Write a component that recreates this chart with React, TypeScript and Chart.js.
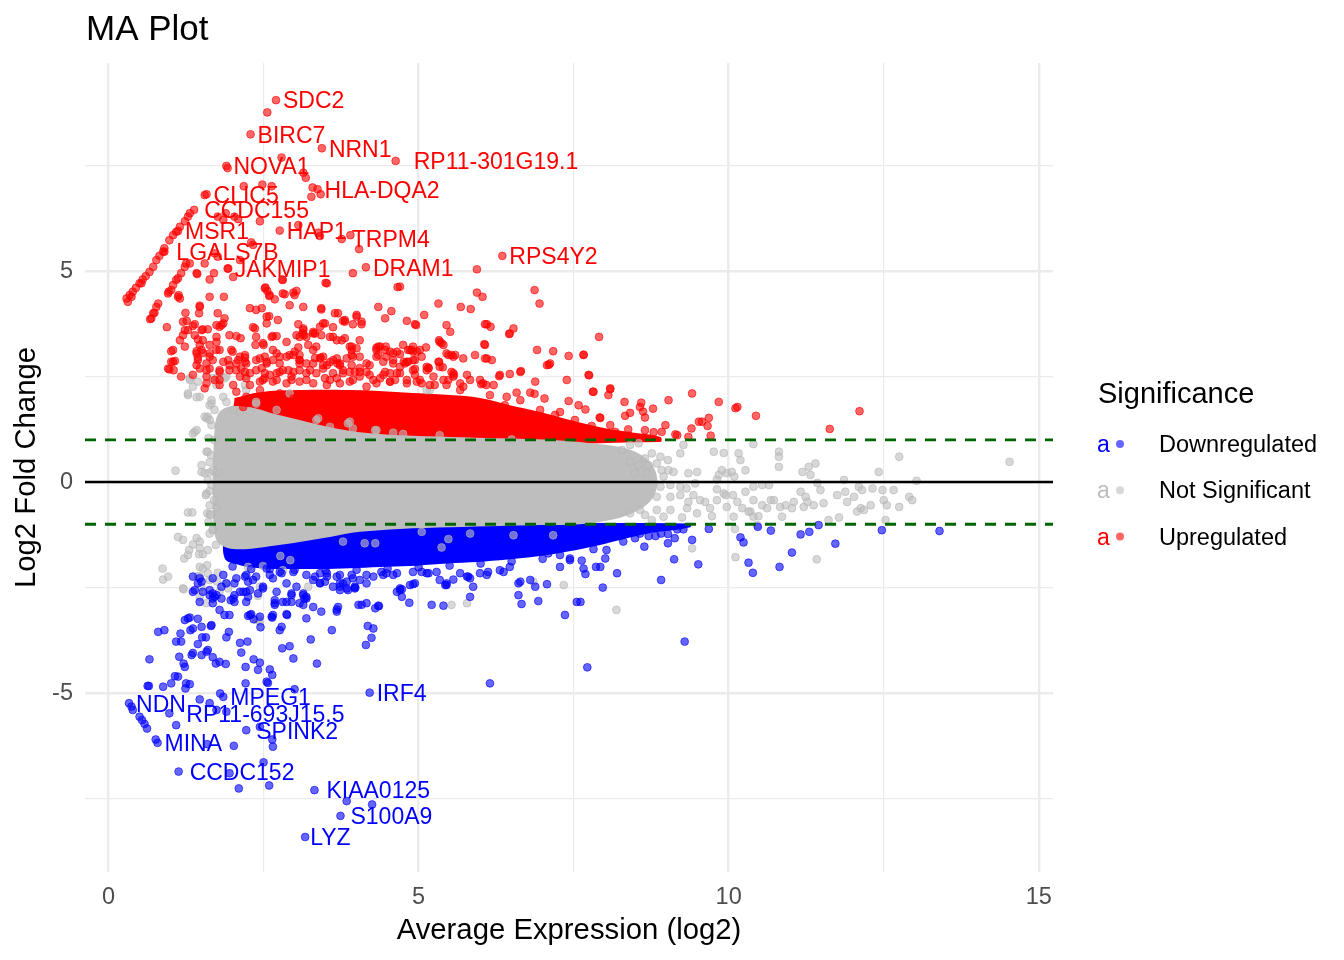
import React, { useEffect, useRef } from 'react';
import { Chart, registerables } from 'chart.js';

Chart.register(...registerables);

// ---------- axes ----------
const xMin = -0.38;
const xMax = 15.23;
const yMin = -9.24;
const yMax = 9.93;
const xTicks = [0, 2.5, 5, 7.5, 10, 12.5, 15];
const xTickLabels = [0, 5, 10, 15];
const yTicks = [-7.5, -5, -2.5, 0, 2.5, 5, 7.5];
const yTickLabels = [-5, 0, 5];
const foldThreshold = 1;

// ---------- labelled genes [name, A, M] ----------
const upGenes: [string, number, number][] = [
  ['SDC2', 2.70, 9.05],
  ['BIRC7', 2.29, 8.24],
  ['NRN1', 3.44, 7.91],
  ['RP11-301G19.1', 4.63, 7.61],
  ['NOVA1', 1.90, 7.49],
  ['HLA-DQA2', 3.37, 6.94],
  ['CLIC5', 1.58, 6.82],
  ['CCDC155', 1.38, 6.45],
  ['MSR1', 1.12, 5.95],
  ['HAP1', 2.76, 5.96],
  ['TRPM4', 3.76, 5.76],
  ['LGALS7B', 0.90, 5.46],
  ['JAKMIP1', 1.92, 5.06],
  ['DRAM1', 4.15, 5.09],
  ['RPS4Y2', 6.35, 5.36],
];
const downGenes: [string, number, number][] = [
  ['NDN', 0.33, -5.24],
  ['RP11-693J15.5', 0.98, -5.48],
  ['MPEG1', 1.85, -5.09],
  ['SPINK2', 2.22, -5.88],
  ['MINA', 0.79, -6.18],
  ['CCDC152', 1.13, -6.86],
  ['IRF4', 4.21, -4.99],
  ['KIAA0125', 3.32, -7.30],
  ['S100A9', 3.74, -7.91],
  ['LYZ', 3.17, -8.41],
];

// ---------- dense cores (outline of the overplotted clouds) ----------
const upCore = [
  [2.03, 1.99], [2.44, 2.13], [3.08, 2.18], [3.89, 2.18], [4.70, 2.13], [5.51, 2.06], [5.99, 1.99], [6.47, 1.82],
  [6.96, 1.66], [7.44, 1.47], [7.93, 1.30], [8.41, 1.18], [8.90, 1.07], [8.90, 0.95], [2.03, 0.95], [2.03, 1.99],
];
const downCore = [
  [1.87, -0.98], [9.38, -0.98], [9.38, -1.07], [8.74, -1.21], [8.25, -1.37], [7.77, -1.54], [7.28, -1.68],
  [6.80, -1.78], [6.31, -1.85], [5.83, -1.90], [5.34, -1.94], [4.86, -1.99], [4.38, -2.01], [3.89, -2.04],
  [3.41, -2.06], [2.92, -2.06], [2.44, -2.04], [2.12, -1.97], [1.87, -1.80], [1.87, -0.98],
];
const nsCore = [
  [1.70, 1.00], [1.73, 1.47], [1.82, 1.71], [2.03, 1.80], [2.36, 1.75], [2.68, 1.61], [3.08, 1.47], [3.57, 1.30],
  [4.05, 1.18], [4.70, 1.11], [5.51, 1.07], [6.31, 1.04], [7.12, 1.00], [7.77, 0.92], [8.25, 0.83], [8.57, 0.66],
  [8.77, 0.40], [8.85, 0.05], [8.80, -0.31], [8.65, -0.57], [8.41, -0.76], [8.09, -0.90], [7.61, -1.00],
  [6.96, -1.02], [6.31, -1.04], [5.51, -1.07], [4.70, -1.11], [4.05, -1.18], [3.57, -1.30], [3.08, -1.42],
  [2.60, -1.52], [2.20, -1.59], [1.92, -1.56], [1.76, -1.42], [1.70, -1.14], [1.68, -0.43], [1.68, 0.28],
  [1.70, 1.00],
];

// ---------- individual genes ----------
const upPoints = [
  [2.56, 8.76], [2.79, 7.69], [3.14, 7.33], [3.18, 7.21], [3.29, 6.98], [3.27, 6.76], [3.42, 6.82], [2.18, 7.01],
  [2.48, 7.05], [2.63, 7.01], [1.92, 7.44], [1.55, 6.80], [1.89, 6.37], [2.03, 6.29], [2.09, 6.23], [1.85, 6.21],
  [1.76, 6.29], [2.44, 6.18], [3.06, 6.09], [3.38, 5.91], [3.41, 5.83], [3.90, 5.85], [4.04, 5.52], [2.30, 5.68],
  [2.33, 5.62], [1.76, 5.34], [1.71, 5.42], [2.12, 5.26], [2.01, 4.86], [1.42, 4.95], [1.55, 5.18], [1.63, 4.80],
  [1.70, 4.95], [3.94, 4.95], [5.94, 5.04], [6.87, 4.55], [5.94, 4.49], [6.03, 4.39], [4.66, 4.62], [3.50, 4.72],
  [2.80, 4.80], [2.53, 4.61], [2.56, 4.53], [2.81, 4.47], [3.03, 4.53], [2.59, 4.41], [1.13, 4.43], [1.93, 5.06],
  [1.28, 6.29], [1.15, 6.05], [1.09, 5.93], [1.04, 5.85], [0.98, 5.73], [0.90, 5.54], [0.88, 5.46], [0.77, 5.26],
  [0.72, 5.10], [0.66, 4.98], [0.55, 4.80], [0.50, 4.71], [0.39, 4.51], [0.34, 4.43], [0.29, 4.35], [0.31, 4.27],
  [0.37, 4.39], [1.31, 6.37], [1.23, 6.18], [0.82, 5.36], [0.60, 4.88], [0.44, 4.60],
  [1.31, 5.18], [1.25, 5.18], [1.23, 5.10], [1.17, 4.95], [1.12, 4.83], [1.09, 4.79], [1.04, 4.67], [1.01, 4.55],
  [0.97, 4.51], [0.96, 4.47], [0.80, 4.23], [0.77, 4.15], [0.72, 4.00], [0.67, 3.86], [0.69, 3.88], [0.74, 4.01],
  [1.43, 4.93], [0.53, 4.71],
  [1.12, 4.39], [1.15, 4.35], [1.63, 4.39], [1.86, 4.39], [1.47, 4.15], [1.46, 4.00], [1.24, 4.01], [1.76, 4.00],
  [1.87, 3.88], [1.20, 3.80], [0.94, 3.67], [2.28, 4.12], [2.38, 4.08], [2.47, 4.12], [2.52, 4.59], [2.60, 4.43],
  [2.68, 4.33], [2.81, 4.79], [2.84, 4.45], [2.98, 4.49], [2.92, 4.19], [3.14, 4.15], [3.43, 4.09], [3.52, 4.71],
  [2.55, 3.92], [2.59, 3.93], [2.73, 3.84], [2.33, 3.67], [3.06, 3.74], [3.14, 3.60], [3.30, 3.56], [3.46, 3.76],
  [3.70, 4.00], [3.78, 3.82], [4.00, 3.96], [4.08, 3.80], [4.35, 4.15], [4.56, 4.05], [4.46, 3.88], [4.81, 3.82],
  [1.04, 3.13], [0.96, 2.69], [1.01, 2.85], [1.15, 3.36], [1.23, 3.21], [1.28, 3.60], [1.39, 3.74], [1.50, 3.60],
  [1.60, 3.62], [1.44, 3.38], [1.52, 3.06], [1.44, 2.95], [1.74, 3.32], [1.74, 3.13], [1.95, 3.48], [2.06, 3.46],
  [2.13, 3.41], [1.98, 3.13], [2.09, 2.89], [2.20, 2.95], [2.36, 3.64], [2.38, 3.44], [2.37, 3.25], [2.50, 3.25],
  [2.65, 3.46], [2.71, 3.46], [2.87, 3.32], [2.65, 3.13], [2.71, 3.05], [3.00, 3.09], [3.06, 3.19], [3.13, 3.52],
  [3.08, 3.44], [3.22, 3.25], [3.35, 3.21], [3.57, 3.44], [3.68, 3.36], [3.81, 3.41], [3.89, 3.21], [4.00, 3.17],
  [4.32, 3.18], [4.46, 3.13], [4.59, 3.05], [4.70, 3.03], [4.75, 3.25], [4.81, 2.85], [4.32, 2.97], [3.42, 2.95],
  [3.69, 2.81],
  [0.98, 2.67], [1.07, 2.87], [1.05, 2.65], [1.01, 3.10], [1.17, 2.50], [1.26, 3.82], [1.23, 3.60], [1.47, 4.18],
  [1.47, 3.25], [1.42, 3.10], [1.44, 2.89], [1.47, 2.69], [1.63, 3.05], [1.68, 2.89], [1.63, 2.69], [1.58, 2.50],
  [1.55, 2.22], [1.79, 3.68], [1.85, 3.76], [1.79, 2.65], [1.79, 2.42], [1.93, 2.89], [2.00, 3.09], [2.22, 2.81],
  [2.06, 2.65], [2.12, 2.50], [2.49, 3.29], [3.00, 4.43], [3.15, 3.48], [3.41, 3.68], [3.49, 3.76], [3.43, 4.12],
  [3.65, 4.00], [3.62, 3.44], [3.81, 3.84], [3.92, 3.13], [4.00, 3.92], [4.05, 2.97], [4.35, 3.21], [4.47, 3.21],
  [4.54, 3.09], [4.89, 3.13], [4.83, 2.85], [4.94, 3.74], [5.09, 3.96], [5.32, 4.23], [5.34, 3.32], [5.45, 3.72],
  [5.51, 3.56], [5.68, 4.15], [5.84, 4.10], [6.10, 3.74], [6.16, 3.68], [6.47, 3.52], [6.53, 3.64], [6.95, 4.23],
  [6.91, 3.13], [7.17, 3.10], [7.42, 2.99], [7.66, 3.01], [7.91, 3.44], [5.02, 3.13], [5.16, 2.69], [5.32, 2.85],
  [5.53, 3.01], [5.72, 2.93], [5.91, 3.01], [6.10, 2.93], [6.18, 2.89], [6.31, 2.54], [6.64, 2.61], [6.88, 2.38],
  [7.07, 2.77], [7.12, 2.81], [7.74, 2.54], [8.09, 2.22], [8.06, 2.06], [7.82, 2.14],
  [4.70, 4.63], [6.46, 3.51], [5.33, 3.36], [5.37, 3.29], [6.06, 3.27], [4.86, 3.13], [5.12, 3.19], [5.45, 3.05],
  [5.59, 3.01], [6.07, 2.93], [4.76, 2.85], [4.91, 2.89], [5.16, 2.71], [4.94, 2.68], [5.33, 2.85], [5.39, 2.72],
  [7.10, 2.78], [6.30, 2.51], [6.47, 2.56], [6.65, 2.63], [7.75, 2.53], [5.53, 2.61], [5.57, 2.54], [5.48, 2.42],
  [6.01, 2.32], [6.09, 2.30], [8.09, 2.20], [7.81, 2.14], [9.41, 2.10], [9.03, 1.94], [8.32, 1.90], [8.59, 1.88],
  [8.57, 1.78], [8.62, 1.67], [8.65, 1.53], [8.78, 1.74], [8.41, 1.64], [8.33, 1.57], [7.42, 1.92], [7.58, 1.82],
  [7.69, 1.72], [7.92, 1.53], [7.79, 1.33], [7.03, 1.98], [6.58, 2.12], [6.42, 2.02], [6.80, 2.12], [6.87, 2.09],
  [7.20, 1.59], [8.17, 1.19], [8.38, 1.25], [8.39, 1.10], [8.79, 1.18], [8.92, 1.19], [9.40, 1.27], [9.14, 1.13],
  [9.35, 1.07], [9.52, 1.43],
  [7.66, 3.02], [9.84, 1.90], [10.11, 1.75], [10.14, 1.78], [10.44, 1.57], [12.11, 1.68], [11.63, 1.26], [7.93, 1.52],
  [9.66, 1.33], [9.68, 1.52], [9.57, 1.43], [9.71, 1.10], [7.98, 1.11], [7.87, 1.07], [7.65, 1.07], [9.17, 1.11],
  [2.28, 2.30], [2.52, 2.46], [2.76, 2.61], [2.95, 2.42], [3.25, 2.65], [3.49, 2.46], [3.73, 2.77], [3.97, 2.61],
  [4.21, 2.77], [4.46, 2.61], [4.62, 2.42], [5.02, 2.42], [5.26, 2.30], [5.67, 2.18], [5.83, 2.42], [6.15, 2.06],
  [6.39, 1.82], [6.64, 1.94], [6.96, 1.71], [7.28, 1.66], [7.52, 1.47], [8.09, 1.35], [8.65, 1.23], [8.98, 1.35],
  [1.95, 2.77], [1.71, 2.42], [2.20, 2.61], [2.47, 2.70], [3.08, 2.89], [3.33, 2.94], [3.57, 2.84], [4.05, 2.70],
  [2.44, 2.93], [2.55, 2.85], [2.65, 2.89], [2.76, 2.97], [2.87, 2.97], [2.98, 3.01], [3.08, 3.01], [3.30, 2.81],
  [3.41, 2.93], [3.52, 2.77], [3.62, 2.89], [3.73, 2.81], [3.84, 2.93], [3.94, 2.97], [4.16, 2.81], [4.32, 3.13],
  [4.48, 2.97], [4.59, 2.89], [4.70, 2.73], [4.91, 3.09], [5.05, 2.97], [5.48, 3.01], [5.56, 2.97],
  [2.28, 2.58], [2.38, 2.65], [2.49, 2.42], [2.60, 2.54], [2.71, 2.42], [2.81, 2.65], [2.95, 2.50], [3.08, 2.65],
  [3.19, 2.42], [3.35, 2.58], [3.46, 2.69], [3.57, 2.42], [3.68, 2.46], [3.78, 2.58], [3.89, 2.38], [4.05, 2.50],
  [4.16, 2.61], [4.27, 2.42], [4.43, 2.54], [4.54, 2.38], [4.65, 2.58], [4.81, 2.42], [4.94, 2.54], [5.05, 2.34],
  [5.24, 2.50], [5.40, 2.42], [5.56, 2.50], [5.67, 2.34], [5.78, 2.54], [5.99, 2.42], [7.39, 2.42],
];

// up-regulated genes in the crowded band just above the core
const upBand = [
  [1.36, 3.70], [1.52, 3.62], [1.74, 3.72], [1.82, 3.72], [2.55, 3.76], [3.14, 3.64], [3.30, 3.52], [3.62, 3.67],
  [3.81, 3.80], [3.94, 3.74], [4.08, 3.74], [4.96, 3.72], [6.07, 3.74], [1.20, 3.48], [1.39, 3.48], [1.52, 3.36],
  [1.63, 3.25], [1.74, 3.44], [2.63, 3.44], [3.03, 3.48], [3.19, 3.44], [3.33, 3.52], [3.43, 3.48], [3.76, 3.36],
  [3.92, 3.21], [4.05, 3.36], [4.38, 3.21], [4.91, 3.21], [5.40, 3.25], [6.07, 3.25], [1.42, 3.05], [1.50, 3.13],
  [1.63, 2.97], [1.79, 3.13], [2.12, 2.97], [2.20, 3.01], [2.38, 2.89], [2.52, 2.97], [2.92, 3.01], [3.08, 2.89],
  [3.30, 3.13], [3.46, 2.97], [3.68, 2.93], [3.92, 3.01], [4.35, 3.01], [4.65, 3.09], [4.83, 3.13], [4.97, 3.09],
  [1.04, 2.85], [1.42, 2.77], [1.58, 2.81], [1.85, 2.85], [2.06, 2.81], [2.20, 2.85], [2.55, 2.81], [2.76, 2.81],
  [3.08, 2.81], [3.19, 2.81], [3.46, 2.77], [3.92, 2.77], [4.43, 2.85], [4.59, 2.81], [4.78, 2.81], [4.94, 2.89],
  [5.13, 2.73], [1.36, 2.54], [1.58, 2.65], [1.79, 2.61], [1.95, 2.65], [2.14, 2.69], [2.52, 2.58], [2.71, 2.58],
  [2.90, 2.65], [2.98, 2.61], [3.19, 2.58], [3.62, 2.58], [3.78, 2.65], [3.89, 2.61], [4.05, 2.61], [4.21, 2.54],
  [4.38, 2.46], [4.54, 2.58], [4.70, 2.58], [4.91, 2.65], [5.13, 2.65], [5.34, 2.73], [5.56, 2.58], [6.21, 2.30],
  [6.04, 2.34], [1.58, 2.34], [1.79, 2.30], [2.01, 2.30], [2.22, 2.46], [2.44, 2.38], [2.65, 2.38], [2.87, 2.34],
  [3.08, 2.38], [3.30, 2.34], [3.52, 2.30], [3.73, 2.34], [3.94, 2.42], [4.16, 2.26], [4.32, 2.34], [4.54, 2.38],
  [4.81, 2.34], [4.97, 2.38], [5.18, 2.30], [5.45, 2.30], [5.72, 2.26], [2.06, 2.14], [2.22, 2.02], [2.44, 2.18],
  [2.60, 1.90], [2.76, 2.10], [2.98, 1.98], [3.14, 1.78], [3.30, 2.02], [3.46, 1.86], [2.17, 1.78], [2.87, 1.71],
];

const downPoints = [
  [9.68, -1.11], [9.41, -1.37], [9.51, -1.95], [9.12, -1.83], [8.91, -2.32], [9.29, -3.78], [8.20, -2.16], [7.97, -2.50],
  [7.86, -2.01], [7.69, -2.18], [7.72, -4.39], [7.61, -2.84], [7.63, -1.86], [7.82, -1.59], [8.01, -1.81], [8.03, -1.61],
  [8.20, -1.16], [8.30, -1.41], [8.24, -1.28], [8.64, -1.53], [9.02, -1.45], [9.13, -1.33], [9.02, -1.23], [8.91, -1.22],
  [8.82, -1.28], [8.71, -1.28], [8.63, -1.14], [8.57, -1.22], [8.49, -1.33], [8.47, -1.18], [9.17, -1.12], [9.27, -1.12],
  [10.19, -1.31], [10.24, -1.43], [10.32, -1.91], [10.39, -2.15], [10.47, -1.06], [10.68, -1.15], [10.82, -2.01],
  [11.02, -1.67], [11.16, -1.24], [11.30, -1.18], [11.45, -1.02], [11.72, -1.46], [12.47, -1.14], [13.40, -1.16],
  [7.93, -2.01], [7.55, -2.84], [7.36, -3.15], [6.61, -2.68], [6.66, -2.89], [7.07, -2.42], [6.88, -2.48], [5.83, -2.72],
  [5.80, -2.24], [5.56, -2.31], [5.43, -2.44], [5.21, -2.91], [5.40, -2.93], [4.85, -2.86], [4.70, -2.56], [4.73, -2.72],
  [4.91, -2.42], [4.35, -2.93], [4.30, -2.99], [4.16, -2.87], [4.03, -2.91], [3.98, -2.50], [3.68, -3.07], [3.70, -2.96],
  [3.43, -3.07], [3.30, -2.96], [3.14, -2.91], [3.16, -2.76], [2.87, -3.13], [2.87, -2.84], [2.65, -3.15], [2.68, -2.91],
  [6.15, -4.77], [4.65, -2.60], [4.73, -2.54], [4.18, -3.41], [4.27, -3.47], [4.24, -3.69], [4.15, -3.86], [4.08, -2.91],
  [4.36, -2.94], [3.97, -2.52], [3.86, -2.56], [3.73, -2.56], [3.78, -2.40], [3.73, -2.20], [3.92, -2.20], [3.41, -2.39],
  [3.49, -2.36], [3.33, -2.24], [3.52, -2.16], [3.68, -3.02], [2.95, -2.84], [2.81, -2.84], [2.68, -2.80], [3.14, -2.64],
  [3.19, -2.76], [2.03, -2.84], [1.97, -2.80], [1.87, -3.15], [1.79, -3.03], [2.17, -2.60], [2.28, -2.56], [2.25, -2.36],
  [1.68, -2.76], [1.74, -2.68], [1.63, -2.56], [1.52, -2.60], [1.39, -2.56], [1.44, -2.40], [1.36, -2.24], [2.63, -3.19],
  [0.80, -3.55], [0.90, -3.51], [0.66, -4.20], [0.63, -4.83], [0.88, -4.85], [1.01, -4.77], [1.07, -4.60], [1.12, -4.61],
  [1.25, -4.77], [1.31, -4.79], [1.09, -3.78], [1.17, -3.78], [1.16, -3.59], [1.23, -3.27], [1.31, -3.21], [1.44, -3.24],
  [1.32, -3.51], [1.36, -3.47], [1.50, -3.43], [1.65, -3.41], [1.44, -3.84], [1.51, -3.68], [1.57, -3.68], [1.14, -4.14],
  [1.21, -4.30], [1.23, -4.38], [1.34, -4.10], [1.36, -4.05], [1.50, -4.10], [1.58, -4.02], [1.60, -3.98], [1.68, -4.15],
  [1.73, -4.30], [1.79, -4.26], [1.89, -4.31], [1.90, -3.68], [1.94, -3.55], [2.12, -3.81], [2.14, -4.04], [2.24, -3.78],
  [2.21, -4.38], [2.21, -4.77], [2.34, -4.20], [2.44, -4.28], [2.41, -4.45], [2.60, -4.44], [2.64, -4.57], [2.57, -4.76],
  [2.25, -3.17], [2.30, -3.13], [2.34, -3.25], [2.45, -3.44], [2.64, -3.21], [2.76, -3.51], [2.79, -3.43], [2.88, -3.15],
  [2.80, -3.94], [2.92, -3.89], [2.98, -4.18], [3.26, -3.73], [3.36, -4.30], [3.60, -3.51], [3.00, -4.91], [2.55, -4.73],
  [0.65, -4.83], [1.24, -4.89],
  [0.37, -5.32], [0.39, -5.40], [0.50, -5.56], [0.54, -5.64], [0.58, -5.73], [0.62, -5.84], [0.76, -6.10],
  [1.09, -5.76], [1.47, -5.15], [1.63, -5.24], [1.74, -5.40], [1.90, -5.44], [1.80, -5.01], [2.44, -5.80], [2.64, -6.10],
  [2.65, -6.27], [1.59, -6.21], [2.02, -6.25], [1.95, -6.90], [2.10, -7.26], [2.59, -7.19], [2.50, -6.64], [3.84, -7.56],
  [4.25, -7.64],
  [1.47, -2.28], [1.63, -2.68], [1.71, -2.72], [1.82, -2.48], [1.90, -2.40], [2.01, -2.76], [2.03, -2.40], [2.12, -2.60],
  [2.20, -2.24], [2.25, -2.72], [2.33, -2.32], [2.41, -2.64], [2.49, -2.48], [2.55, -2.05], [2.65, -2.28], [2.68, -2.87],
  [2.79, -2.16], [2.87, -2.40], [2.95, -2.68], [3.03, -2.48], [3.19, -2.72], [3.30, -2.32], [3.41, -2.40], [3.52, -2.24],
  [3.62, -2.48], [3.73, -2.40], [3.84, -2.52], [3.97, -2.48], [4.05, -2.32], [4.16, -2.40], [4.27, -2.24], [4.40, -2.13],
  [4.48, -2.16], [4.59, -2.20], [4.86, -2.44], [4.94, -2.40], [5.05, -2.13], [5.16, -2.16], [5.29, -2.13], [5.34, -2.32],
  [5.45, -2.40], [5.67, -2.16], [5.83, -2.28], [5.99, -2.16], [6.12, -2.13], [6.31, -2.09], [6.47, -2.01], [6.61, -2.40],
  [6.80, -2.32], [7.09, -1.69], [7.28, -1.73], [7.44, -1.85], [7.66, -2.05],
];

// down-regulated genes in the crowded band just below the core
const downBand = [
  [1.50, -2.36], [1.68, -2.28], [1.85, -2.20], [2.06, -2.28], [2.22, -2.20], [2.38, -2.24], [2.60, -2.20], [2.76, -2.13],
  [2.98, -2.13], [3.19, -2.20], [3.41, -2.16], [3.68, -2.24], [3.94, -2.28], [4.16, -2.20], [4.43, -2.20], [4.65, -2.16],
  [4.91, -2.13], [5.13, -2.16], [5.45, -2.44], [5.78, -2.24], [5.88, -2.48], [6.10, -2.20], [6.37, -2.13], [6.64, -2.36],
  [7.28, -2.01], [7.44, -1.81], [1.36, -2.60], [1.68, -2.64], [1.82, -2.76], [2.03, -2.68], [2.22, -2.60], [2.49, -2.52],
  [2.71, -2.60], [2.95, -2.64], [3.14, -2.68], [3.73, -2.48], [3.84, -2.36], [4.70, -2.52], [6.93, -2.82], [1.47, -2.84],
  [1.68, -2.87], [2.22, -2.84], [3.08, -2.87], [1.28, -3.23], [1.66, -3.39], [1.95, -3.15], [2.28, -3.15], [2.44, -3.19],
  [3.19, -3.23], [2.60, -2.06], [3.00, -2.08], [3.50, -2.10], [4.00, -2.08], [4.50, -2.05], [5.00, -2.02], [5.50, -1.98],
  [6.00, -1.93], [6.50, -1.88], [7.00, -1.82], [2.30, -2.06], [2.00, -2.00],
];

const nsPoints = [
  [1.08, 0.27], [1.58, 0.72], [1.50, 0.40], [1.50, 0.24], [1.55, 0.21], [1.63, 0.23], [1.78, 0.23], [1.58, -0.27],
  [1.63, -0.21], [1.57, -0.31], [1.28, -0.72], [1.35, -0.72], [1.59, -0.74], [1.63, -0.76], [1.74, -0.62], [1.68, -1.12],
  [1.63, -1.22], [1.12, -1.30], [1.20, -1.37], [1.42, -1.33], [1.47, -1.41], [1.36, -1.48], [1.30, -1.61], [1.47, -1.57],
  [1.60, -1.61], [1.46, -1.71], [1.52, -1.71], [1.22, -1.81], [1.28, -1.73], [1.59, -1.97], [1.47, -2.01], [1.52, -2.05],
  [0.87, -2.05], [0.88, -2.31], [0.96, -2.24], [1.20, -2.52], [1.47, -2.24], [1.50, -2.48], [1.60, -2.16], [1.76, -2.15],
  [1.89, -2.39], [1.79, -2.60], [1.47, -2.72], [1.58, -2.87], [1.21, -2.54], [1.44, -2.23], [1.63, -2.32], [1.75, -2.36],
  [1.93, -2.52], [2.38, -3.27], [2.41, -2.70], [2.25, -2.01], [2.49, -1.99], [2.77, -1.75], [2.93, -1.85], [2.81, -2.09],
  [2.44, -2.48], [3.22, -2.48], [3.78, -1.41], [4.13, -1.45], [4.30, -1.45], [5.05, -1.18], [5.48, -1.35], [5.83, -1.22],
  [6.53, -1.26], [7.17, -1.26], [5.37, -1.55], [6.85, -2.36], [7.34, -2.44], [5.53, -2.91], [5.78, -2.87], [2.42, -3.25],
  [8.19, -3.03], [10.10, -1.11], [10.11, -1.78], [11.42, -1.83], [9.41, -1.57], [2.44, -3.31],
  [1.28, 2.06], [1.47, 2.02], [1.42, 2.01], [1.74, 2.46], [1.90, 2.50], [1.63, 1.82], [1.66, 1.94], [1.85, 2.02],
  [1.60, 1.55], [1.58, 1.51], [1.39, 1.19], [1.36, 1.15], [1.60, 0.72], [2.21, 2.51], [2.22, 2.18], [2.28, 1.67],
  [2.92, 2.10], [5.18, 2.18], [3.38, 1.51], [3.86, 1.39], [3.94, 1.27], [4.30, 1.23], [4.59, 1.17], [4.75, 1.14],
  [5.34, 1.11], [6.50, 1.01], [1.31, 2.46], [1.44, 2.38], [1.76, 2.48], [1.87, 2.46], [1.28, 2.10], [1.66, 1.86],
  [1.90, 1.90], [2.38, 1.90],
  [1.66, 1.35], [1.70, 1.00], [1.65, 0.64], [1.68, 0.28], [1.66, -0.07], [1.70, -0.43], [1.65, -0.78], [1.68, -1.14],
  [1.73, -1.49], [1.61, 1.04], [1.63, 0.47], [1.60, 0.05], [1.63, -0.55], [1.61, -0.95],
  [1.31, 2.42], [1.36, 2.26], [1.68, 2.46], [1.74, 2.30], [2.20, 2.30], [2.38, 1.86], [1.42, 1.23], [1.55, 1.55],
  [1.63, 1.47], [1.71, 1.71], [2.01, 1.71], [2.12, 1.67], [5.13, 2.18], [4.32, 1.23], [3.89, 1.43], [3.35, 1.47],
  [3.57, 1.31], [3.19, 1.23], [2.71, 1.71],
  [9.76, 0.72], [9.92, 0.69], [10.16, 0.68], [10.19, 0.52], [10.27, 0.28], [10.40, 0.90], [10.81, 0.72], [10.81, 0.60],
  [10.81, 0.36], [9.97, 0.21], [10.05, 0.24], [10.09, 0.13], [9.81, -0.17], [9.92, -0.27], [10.07, -0.31], [10.14, -0.47],
  [9.97, -0.59], [10.27, -0.23], [10.40, -0.11], [10.54, -0.07], [10.65, -0.07], [10.40, -0.43], [10.54, -0.55],
  [10.68, -0.43], [10.62, -0.62], [10.73, -0.43], [10.22, -0.62], [10.35, -0.70], [10.40, -0.82], [10.48, -0.81],
  [10.83, -0.59], [10.86, -0.82], [10.92, -0.55], [11.05, -0.47], [11.02, -0.62], [11.19, 0.24], [11.29, 0.36],
  [11.40, 0.44], [11.32, 0.17], [11.43, -0.02], [11.48, -0.19], [11.16, -0.23], [11.24, -0.35], [11.27, -0.47],
  [11.21, -0.59], [11.37, -0.55], [11.53, -0.50], [11.61, -0.90], [11.78, -0.84], [11.75, -0.31], [11.86, 0.05],
  [11.88, -0.23], [11.91, -0.47], [12.02, -0.35], [12.10, -0.11], [12.15, -0.19], [12.13, -0.62], [12.07, -0.70],
  [12.18, -0.66], [12.29, -0.55], [12.32, -0.15], [12.42, 0.24], [12.48, -0.19], [12.50, -0.43], [12.55, -0.55],
  [12.53, -0.90], [12.66, -0.19], [12.75, -0.59], [12.91, -0.35], [12.96, -0.43], [13.03, 0.03], [12.75, 0.60],
  [14.53, 0.48],
  [9.22, 0.68], [9.27, 0.88], [9.02, 0.52], [8.92, 0.28], [9.03, 0.28], [9.11, 0.24], [8.95, 0.13], [8.68, 0.21],
  [8.55, 0.40], [8.41, 0.48], [8.49, 0.21], [9.35, 0.21], [9.49, 0.24], [9.46, -0.03], [9.32, -0.15], [9.22, -0.11],
  [9.06, -0.07], [8.90, -0.11], [8.84, -0.35], [9.06, -0.35], [9.22, -0.31], [9.35, -0.47], [9.43, -0.31], [9.54, -0.43],
  [9.62, -0.47], [9.70, -0.62], [9.81, -0.43], [9.95, -0.31], [9.81, 0.06], [9.84, 0.17], [9.89, 0.28], [9.33, -0.62],
  [9.25, -0.84], [9.49, -0.74], [9.73, -0.81], [10.08, -0.82], [10.32, -0.70], [10.46, -1.02], [8.95, -0.82], [8.84, -0.66],
  [9.06, -0.66], [8.65, -0.78], [8.76, -0.90], [8.57, -0.66], [8.41, -0.74], [8.65, 0.56], [8.76, 0.68], [8.84, 0.44],
  [8.90, 0.60], [8.71, 0.40], [8.41, 0.88], [8.55, 0.92], [8.28, 0.76],
];

// ---------- styles ----------
const RED = '#FF0000';
const BLUE = '#0000FF';
const GREY = '#BEBEBE';
const RED_A = 'rgba(255,0,0,0.6)';
const BLUE_A = 'rgba(0,0,255,0.6)';
const GREY_A = 'rgba(190,190,190,0.6)';
const FONT = '"Liberation Sans", Arial, Helvetica, sans-serif';

// horizontal label nudges (px) mimicking the repel placement
const labelNudge: Record<string, number> = {
  'RP11-301G19.1': 11,
  'RP11-693J15.5': 10,
  LGALS7B: 5,
  CCDC152: 4,
  KIAA0125: 5,
  S100A9: 3,
  SPINK2: 3,
  CCDC155: 3,
  TRPM4: 3,
  LYZ: -2,
};

const toXY = (arr: number[][]) => arr.map(([x, y]) => ({ x, y }));

const pointStyle = (fill: string, edge: string) => ({
  showLine: false,
  pointRadius: 3.9,
  pointBorderWidth: 0.8,
  backgroundColor: fill,
  borderColor: edge,
  pointBackgroundColor: fill,
  pointBorderColor: edge,
});

const coreStyle = (color: string) => ({
  type: 'line' as const,
  showLine: true,
  fill: 'shape',
  tension: 0.35,
  borderWidth: 0,
  borderColor: 'rgba(0,0,0,0)',
  backgroundColor: color,
  pointRadius: 0,
});

const geneLabelPlugin = {
  id: 'geneLabels',
  afterDatasetsDraw(chart: any) {
    const { ctx, scales } = chart;
    const xs = scales.x;
    const ys = scales.y;
    ctx.save();
    ctx.font = `23px ${FONT}`;
    ctx.textAlign = 'left';
    ctx.textBaseline = 'middle';
    const draw = (list: [string, number, number][], color: string) => {
      ctx.fillStyle = color;
      for (const [g, gx, gy] of list) {
        ctx.fillText(g, xs.getPixelForValue(gx) + 7 + (labelNudge[g] || 0), ys.getPixelForValue(gy) + 2);
      }
    };
    draw(upGenes, RED);
    draw(downGenes, BLUE);
    ctx.restore();
  },
};

const legendEntries: [string, string, string][] = [
  ['Downregulated', BLUE, BLUE_A],
  ['Not Significant', GREY, GREY_A],
  ['Upregulated', RED, RED_A],
];

const decorPlugin = {
  id: 'decor',
  afterDraw(chart: any) {
    const { ctx } = chart;
    ctx.save();
    ctx.textAlign = 'left';
    ctx.textBaseline = 'alphabetic';
    ctx.fillStyle = '#000000';
    ctx.font = `35px ${FONT}`;
    ctx.fillText('MA Plot', 86, 40);
    ctx.font = `29px ${FONT}`;
    ctx.fillText('Significance', 1098, 403);
    legendEntries.forEach(([name, solid, alpha], i) => {
      const cy = 444 + i * 46.3;
      ctx.font = `23px ${FONT}`;
      ctx.fillStyle = solid;
      ctx.fillText('a', 1097, cy + 8);
      ctx.beginPath();
      ctx.arc(1120, cy, 4, 0, Math.PI * 2);
      ctx.fillStyle = alpha;
      ctx.fill();
      ctx.fillStyle = '#000000';
      ctx.font = `23.5px ${FONT}`;
      ctx.fillText(name, 1159, cy + 8);
    });
    ctx.restore();
  },
};

export default function App() {
  const ref = useRef<HTMLCanvasElement | null>(null);

  useEffect(() => {
    if (!ref.current) return;
    Chart.defaults.font.family = FONT;
    const chart = new Chart(ref.current, {
      type: 'scatter',
      data: {
        datasets: [
          {
            type: 'line',
            data: [{ x: xMin, y: 0 }, { x: xMax, y: 0 }],
            borderColor: '#000000',
            borderWidth: 2.6,
            pointRadius: 0,
            fill: false,
            order: 0,
          } as any,
          {
            type: 'line',
            data: [{ x: xMin, y: foldThreshold }, { x: xMax, y: foldThreshold }],
            borderColor: '#006400',
            borderWidth: 2.8,
            borderDash: [11, 9],
            pointRadius: 0,
            fill: false,
            order: 0,
          } as any,
          {
            type: 'line',
            data: [{ x: xMin, y: -foldThreshold }, { x: xMax, y: -foldThreshold }],
            borderColor: '#006400',
            borderWidth: 2.8,
            borderDash: [11, 9],
            pointRadius: 0,
            fill: false,
            order: 0,
          } as any,
          {
            label: 'Upregulated',
            data: toXY([...upPoints, ...upBand, ...upGenes.map(([, x, y]) => [x, y])]),
            ...pointStyle(RED_A, 'rgba(255,0,0,0.75)'),
            order: 1,
          },
          {
            label: 'Downregulated',
            data: toXY([...downPoints, ...downBand, ...downGenes.map(([, x, y]) => [x, y])]),
            ...pointStyle(BLUE_A, 'rgba(0,0,255,0.75)'),
            order: 2,
          },
          {
            label: 'Not Significant',
            data: toXY(nsPoints),
            ...pointStyle(GREY_A, 'rgba(180,180,180,0.75)'),
            order: 3,
          },
          { data: toXY(nsCore), ...coreStyle(GREY), order: 4 } as any,
          { data: toXY(downCore), ...coreStyle(BLUE), order: 5 } as any,
          { data: toXY(upCore), ...coreStyle(RED), order: 6 } as any,
        ],
      },
      options: {
        animation: false,
        responsive: false,
        devicePixelRatio: 1,
        events: [],
        layout: { padding: { top: 63, right: 291, bottom: 0, left: 0 } },
        plugins: {
          legend: { display: false },
          tooltip: { enabled: false },
          title: { display: false },
        },
        scales: {
          x: {
            type: 'linear',
            min: xMin,
            max: xMax,
            afterBuildTicks: (s: any) => {
              s.ticks = xTicks.map((v) => ({ value: v }));
            },
            afterFit: (s: any) => {
              s.height = 88;
            },
            ticks: {
              autoSkip: false,
              maxRotation: 0,
              padding: 11,
              color: '#4D4D4D',
              font: { size: 23.5, family: FONT },
              callback: (v: any) => (xTickLabels.includes(Number(v)) ? String(v) : ''),
            },
            grid: {
              color: '#EBEBEB',
              drawTicks: false,
              lineWidth: (c: any) => (c.tick && xTickLabels.includes(c.tick.value) ? 2.4 : 1.2),
            },
            border: { display: false },
            title: {
              display: true,
              text: 'Average Expression (log2)',
              color: '#000000',
              font: { size: 29.3, family: FONT },
              padding: { top: 0, bottom: 12 },
            },
          },
          y: {
            type: 'linear',
            min: yMin,
            max: yMax,
            afterBuildTicks: (s: any) => {
              s.ticks = yTicks.map((v) => ({ value: v }));
            },
            afterFit: (s: any) => {
              s.width = 85;
            },
            ticks: {
              autoSkip: false,
              padding: 12,
              color: '#4D4D4D',
              font: { size: 23.5, family: FONT },
              callback: (v: any) => (yTickLabels.includes(Number(v)) ? String(v) : ''),
            },
            grid: {
              color: '#EBEBEB',
              drawTicks: false,
              lineWidth: (c: any) => (c.tick && yTickLabels.includes(c.tick.value) ? 2.4 : 1.2),
            },
            border: { display: false },
            title: {
              display: true,
              text: 'Log2 Fold Change',
              color: '#000000',
              font: { size: 29.3, family: FONT },
              padding: { top: 9.2, bottom: 0 },
            },
          },
        },
      },
      plugins: [geneLabelPlugin, decorPlugin],
    } as any);
    return () => chart.destroy();
  }, []);

  return (
    <div style={{ position: 'fixed', left: 0, top: 0, width: 1344, height: 960, background: '#FFFFFF' }}>
      <canvas ref={ref} width={1344} height={960} style={{ width: 1344, height: 960, display: 'block' }} />
    </div>
  );
}
